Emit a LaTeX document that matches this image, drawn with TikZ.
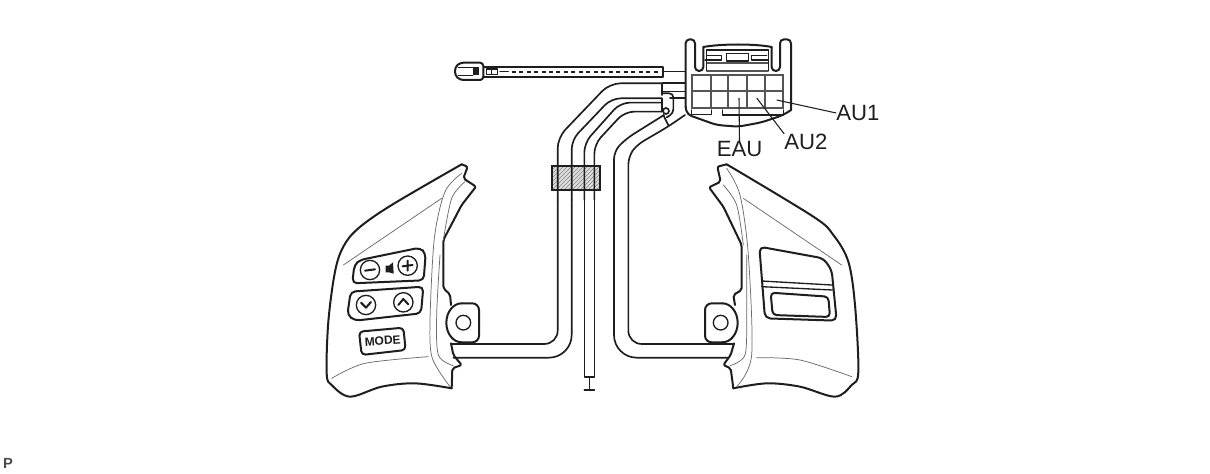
\documentclass[tikz,border=0pt]{standalone}
\usepackage{fontspec}
\setmainfont{Liberation Sans}
\usetikzlibrary{patterns}
\definecolor{ink}{HTML}{1E1E1E}
\definecolor{soft}{HTML}{6A6A6A}
\tikzset{
  heavy/.style={draw=ink,line width=1.5pt,line join=round,line cap=round},
  mid/.style={draw=ink,line width=1pt,line join=round,line cap=round},
  thin/.style={draw=soft,line width=0.55pt,line join=round,line cap=round},
  gridline/.style={draw=soft!80!black,line width=1.3pt},
  wire/.style={draw=ink,line width=1.25pt,line join=round,line cap=round},
  lead/.style={draw=ink,line width=0.8pt},
  callout/.style={font=\fontsize{16.6}{18}\selectfont,inner sep=0pt,text=ink},
  zone/.style={x=0.25pt,y=-0.25pt},
}
\begin{document}
\begin{tikzpicture}[x=0.75pt,y=-0.75pt]
\useasboundingbox[fill=white] (0,0) rectangle (1210,474);

% --- clamp (drawn beneath the wires)
\begin{scope}[shift={(315,155)},zone]
  \fill[gray!25] (712,32) rectangle (855,105);
  \fill[pattern=north east lines,pattern color=black!50] (712,32) rectangle (855,105);
  \draw[draw=ink,line width=1.5pt] (712,32) rectangle (855,105);
\end{scope}

% --- wires, upper part (coordinates of crop 1)
\begin{scope}[shift={(440,30)},zone]
  \draw[wire,rounded corners=8pt] (665,160) -- (509,160) -- (353,323) -- (353,510);
  \draw[wire,rounded corners=7pt] (665,205) -- (514,205) -- (395,330) -- (395,510);
  \draw[wire,rounded corners=7pt] (665,218) -- (541,218) -- (433,339) -- (433,510);
  \draw[wire,rounded corners=7pt] (665,245) -- (554,245) -- (463,343) -- (463,510);
  \draw[wire,rounded corners=6pt] (672,255) -- (560,325) -- (522,363) -- (522,510);
  \draw[wire,rounded corners=6pt] (735,255) -- (684,290) -- (590,345) -- (565,380) -- (565,510);
  % band ends and links to the connector
  \draw[wire] (665,160) -- (665,195);
  \draw[wire] (665,205) -- (665,245);
  \draw[wire] (668,125) -- (735,125);
  \draw[wire] (668,160) -- (735,160);
  \draw[wire] (668,185) -- (735,185);
  \draw[wire] (690,205) -- (735,205);
  \draw[wire,rounded corners=3pt] (668,190) -- (700,190) -- (700,250) -- (680,262);
  \draw[wire] (678,243) circle[radius=9];
  \draw[wire] (670,255) -- (686,288);
  % flat cable
  \draw[heavy] (130,110) -- (668,110) -- (668,140) -- (130,140);
  \draw[draw=ink,line width=1.5pt,dash pattern=on 3pt off 2.6pt] (215,125) -- (660,125);
  \draw[heavy,rounded corners=2.5pt,fill=white] (130,98) -- (60,98) -- (45,112) -- (45,136) -- (60,150) -- (130,150) -- cycle;
  \fill[ink] (98,112) rectangle (118,136);
  \draw[mid] (55,112) -- (98,112) (55,136) -- (98,136);
  \draw[mid] (140,117) rectangle (155,133);
  \draw[mid] (155,117) rectangle (172,133);
  \draw[mid] (180,125) -- (205,125);
\end{scope}

% --- connector (coordinates of crop 4)
\begin{scope}[shift={(655,35)},zone]
  \draw[heavy,fill=white,rounded corners=3pt]
    (92,215) -- (92,13) -- (120,13) -- (120,108) -- (145,108) -- (145,36);
  \draw[heavy,rounded corners=3pt] (350,36) -- (350,108) -- (375,108) -- (375,13) -- (408,13) -- (408,225);
  \draw[heavy] (145,36) .. controls (200,26) and (300,26) .. (350,36);
  \draw[heavy,rounded corners=4pt] (92,215) -- (95,238) -- (185,270) -- (250,275) -- (320,262) -- (385,240) -- (408,225);
  \draw[mid] (155,45) -- (340,45);
  \draw[mid] (150,75) -- (200,75) -- (200,62) -- (155,62);
  \draw[mid] (340,75) -- (290,75) -- (290,62) -- (335,62);
  \draw[mid] (215,55) rectangle (280,78);
  \draw[mid] (155,45) -- (155,108);
  \draw[mid] (340,45) -- (340,108);
  \draw[gridline] (155,85) -- (340,85);
  \draw[gridline] (155,108) -- (340,108);
  \draw[gridline,fill=white] (110,120) rectangle (385,218);
  \foreach \gx in {167,220,275,330} \draw[gridline] (\gx,120) -- (\gx,218);
  \draw[gridline] (110,167) -- (385,167);
  \draw[mid] (110,225) -- (110,238) -- (170,238) -- (170,225);
  \draw[mid] (202,225) -- (202,240) -- (385,240) -- (385,225);
\end{scope}

% --- left switch (coordinates of crop 2)
\begin{scope}[shift={(315,155)},zone]
  % wires
  \draw[wire,rounded corners=10pt] (728,135) -- (728,567) -- (410,567);
  \draw[wire,rounded corners=17pt] (770,135) -- (770,608) -- (415,608);
  \draw[wire] (808,135) -- (808,665) -- (838,665) -- (838,135);
  \draw[wire] (823,665) -- (823,705) (808,705) -- (838,705);
  % ring
  \draw[heavy,fill=white,rounded corners=5pt] (440,445) -- (492,445) -- (492,562) -- (440,562);
  \draw[heavy] (440,562) arc[start angle=90,end angle=270,x radius=46,y radius=58.5];
  \draw[mid] (445,503) circle[radius=22];
  % outline
  \draw[heavy,rounded corners=1.5pt]
    (440,28) -- (458,35) -- (445,70) -- (483,95) -- (440,150) -- (385,255) -- (385,400) -- (405,418) -- (408,450);
  \draw[heavy,rounded corners=1.5pt]
    (408,565) -- (415,600) -- (440,630) -- (412,640) -- (410,700);
  \draw[heavy] plot[smooth,tension=.55] coordinates
    {(410,700) (300,685) (200,695) (105,725) (50,690) (35,655) (40,500) (60,350) (85,275) (130,220) (230,150) (440,28)};
  % form lines
  \draw[thin] (85,330) -- (380,130);
  \draw[thin] plot[smooth,tension=.5] coordinates {(50,670) (150,625) (340,605)};
  \draw[thin] plot[smooth,tension=.5] coordinates {(440,55) (390,110) (358,250) (345,500) (352,610) (405,695)};
  \draw[thin] plot[smooth,tension=.5] coordinates {(450,80) (410,130) (385,255)};
  \draw[thin] plot[smooth,tension=.5] coordinates {(375,300) (365,480) (370,600) (415,632)};
  % button panels
  \draw[heavy,rounded corners=3.5pt] (112,385) -- (118,330) -- (135,315) -- (315,278) -- (332,295) -- (326,376) -- cycle;
  \draw[heavy,rounded corners=3.5pt] (107,410) -- (325,395) -- (318,475) -- (120,497) -- (97,480) -- cycle;
  \draw[mid] (165,345) circle[radius=29];
  \draw[heavy] (150,347) -- (180,343);
  \draw[mid] (278,332) circle[radius=29];
  \draw[heavy] (263,334) -- (293,330) (278,317) -- (278,347);
  \fill[ink] (212,332) -- (222,332) -- (234,322) -- (236,356) -- (222,352) -- (212,352) -- cycle;
  \draw[mid] (153,450) circle[radius=29];
  \draw[heavy] (138,443) -- (153,458) -- (168,441);
  \draw[mid] (265,442) circle[radius=29];
  \draw[heavy] (250,450) -- (265,432) -- (280,448);
  \draw[heavy,rounded corners=3pt] (132,530) -- (265,518) -- (272,585) -- (140,600) -- cycle;
  \node[rotate=4,inner sep=0pt,text=ink,font=\fontsize{9}{10}\selectfont\bfseries] (mode) at (203,557) {MODE};
\end{scope}

% --- right switch (coordinates of crop 3)
\begin{scope}[shift={(600,155)},zone]
  % wires
  \draw[wire,rounded corners=17pt] (42,135) -- (42,608) -- (385,608);
  \draw[wire,rounded corners=10pt] (85,135) -- (85,567) -- (402,567);
  % ring
  \draw[heavy,fill=white,rounded corners=5pt] (367,445) -- (315,445) -- (315,562) -- (367,562);
  \draw[heavy] (367,562) arc[start angle=90,end angle=-90,x radius=46,y radius=58.5];
  \draw[mid] (362,503) circle[radius=22];
  % outline
  \draw[heavy,rounded corners=1.5pt]
    (380,28) -- (352,35) -- (362,80) -- (327,97) -- (370,155) -- (425,270) -- (425,405) -- (400,420) -- (405,450);
  \draw[heavy,rounded corners=1.5pt]
    (402,565) -- (392,600) -- (370,630) -- (392,640) -- (400,700);
  \draw[heavy] plot[smooth,tension=.55] coordinates
    {(400,700) (500,685) (600,695) (705,725) (755,690) (775,650) (765,450) (745,320) (700,240) (640,185) (380,28)};
  % form lines
  \draw[thin] (430,130) -- (725,330);
  \draw[thin] plot[smooth,tension=.5] coordinates {(470,608) (600,615) (755,665)};
  \draw[thin] plot[smooth,tension=.5] coordinates {(380,40) (420,120) (445,300) (455,600) (410,695)};
  \draw[thin] plot[smooth,tension=.5] coordinates {(370,90) (410,150) (430,270)};
  \draw[thin] plot[smooth,tension=.5] coordinates {(440,300) (440,480) (435,600) (390,632)};
  % button panel
  \draw[heavy,rounded corners=4pt] (478,275) -- (670,310) -- (695,345) -- (710,497) -- (495,490) -- cycle;
  \draw[mid] (485,378) -- (695,390) (485,395) -- (697,405);
  \draw[heavy,rounded corners=3pt] (512,413) -- (685,425) -- (690,486) -- (518,480) -- cycle;
\end{scope}

% --- labels
\node[callout] (au1) at (858,113) {AU1};
\node[callout] (au2) at (806,142) {AU2};
\node[callout] (eau) at (739.5,149) {EAU};
\coordinate (au1t) at (776.7,100);
\coordinate (au2t) at (756.7,98);
\coordinate (eaut) at (739,98);
\draw[lead] (au1t) -- (au1.west);
\draw[lead] (au2t) -- (au2.north west);
\draw[lead] (eaut) -- (eau.north);
\node[inner sep=0pt,text=black!70,font=\fontsize{11}{12}\selectfont\bfseries] (pmark) at (8,463) {P};
\end{tikzpicture}
\end{document}
